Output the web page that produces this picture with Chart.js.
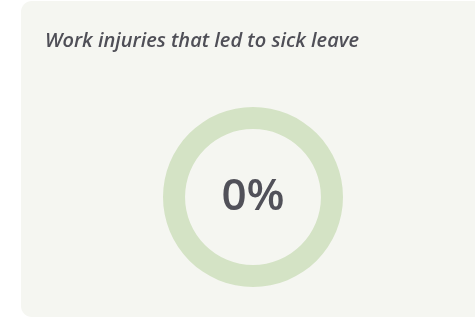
<!DOCTYPE html>
<html>
<head>
<meta charset="utf-8">
<script src="https://cdn.jsdelivr.net/npm/chart.js@4/dist/chart.umd.min.js"></script>
<style>
  html, body { margin: 0; padding: 0; background: #ffffff; width: 475px; height: 318px; overflow: hidden; }
  .card { position: absolute; left: 21px; top: 1px; width: 464px; height: 316px; background: #f5f6f1; border-radius: 11px; }
  .card canvas { position: absolute; left: 0; top: 0; }
</style>
</head>
<body>
<div class="card"><canvas id="c" width="464" height="316"></canvas></div>
<script>
const chartTitle = 'Work injuries that led to sick leave';
const categories = ['Work injuries that led to sick leave', 'Other'];
const values = [0, 100];
const sliceColors = ['#8db56b', '#d4e3c5'];

const centerText = {
  id: 'centerText',
  afterDatasetsDraw(chart) {
    const meta = chart.getDatasetMeta(0);
    const arc = meta.data[0];
    if (!arc) return;
    const ctx = chart.ctx;
    ctx.save();
    ctx.fillStyle = '#515159';
    ctx.font = '600 44px "Open Sans", sans-serif';
    ctx.textAlign = 'center';
    ctx.textBaseline = 'middle';
    ctx.fillText(values[0] + '%', arc.x, arc.y);
    ctx.restore();
  }
};

new Chart(document.getElementById('c'), {
  type: 'doughnut',
  data: {
    labels: categories,
    datasets: [{
      data: values,
      backgroundColor: sliceColors,
      borderWidth: 0,
      hoverOffset: 0
    }]
  },
  options: {
    responsive: false,
    animation: false,
    cutout: '75.5%',
    events: [],
    layout: { padding: { left: 24, right: 24, top: 0, bottom: 30 } },
    plugins: {
      legend: { display: false },
      tooltip: { enabled: false },
      title: {
        display: true,
        text: chartTitle,
        align: 'start',
        color: '#4f4f57',
        font: { family: '"Open Sans", sans-serif', size: 20, style: 'italic', weight: '600', lineHeight: 1.2 },
        padding: { top: 28, bottom: 54 }
      }
    }
  },
  plugins: [centerText]
});
</script>
</body>
</html>
